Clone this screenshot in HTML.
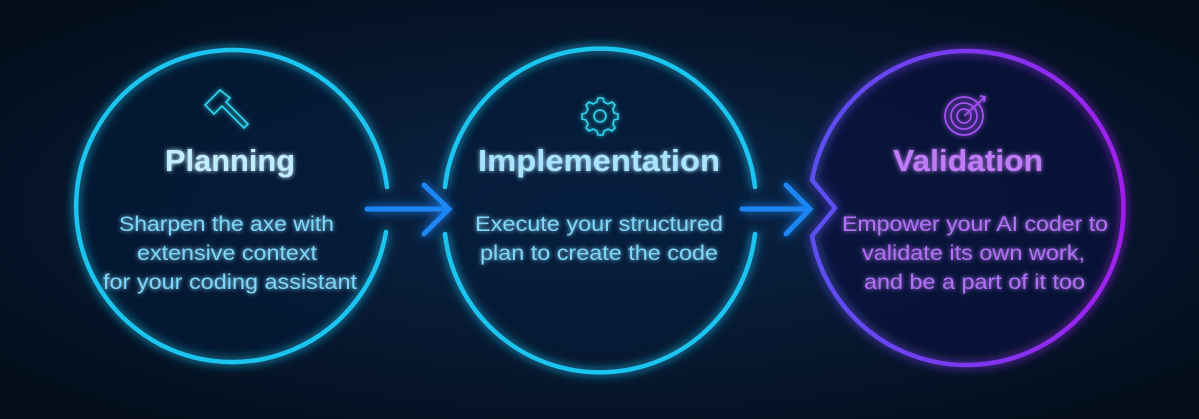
<!DOCTYPE html>
<html><head><meta charset="utf-8"><style>
html,body{margin:0;padding:0;background:#04101f;}
svg{display:block}
</style></head><body>
<svg width="1199" height="419" viewBox="0 0 1199 419" xmlns="http://www.w3.org/2000/svg" font-family="Liberation Sans, sans-serif">
<defs>
<radialGradient id="bg" cx="50%" cy="50%" r="70%">
<stop offset="0" stop-color="#0b2448"/><stop offset="1" stop-color="#030c18"/>
</radialGradient>
<linearGradient id="pg" x1="0" y1="0" x2="1" y2="0">
<stop offset="0" stop-color="#5a50f0"/><stop offset="1" stop-color="#a21ff0"/>
</linearGradient>
<filter id="glow" x="-30%" y="-30%" width="160%" height="160%">
<feGaussianBlur stdDeviation="5" result="b"/>
<feMerge><feMergeNode in="b"/><feMergeNode in="SourceGraphic"/></feMerge>
</filter>
<filter id="tglow" x="-20%" y="-50%" width="140%" height="200%">
<feGaussianBlur stdDeviation="2.5" result="b"/>
<feMerge><feMergeNode in="b"/><feMergeNode in="SourceGraphic"/></feMerge>
</filter>
</defs>
<rect width="1199" height="419" fill="url(#bg)"/>
<circle cx="231" cy="205" r="150" fill="#041a38" opacity="0.6"/>
<circle cx="600" cy="205" r="150" fill="#041a38" opacity="0.6"/>
<circle cx="967" cy="205" r="150" fill="#0a1040" opacity="0.6"/>
<g filter="url(#glow)" fill="none" stroke-width="4.5" stroke-linecap="round">
<path d="M387 187 A156 156 0 1 0 386 232" stroke="#1cc4f0"/>
<path d="M755 187 A156 156 0 0 0 445 187" stroke="#1cc4f0"/>
<path d="M445 234 A156 156 0 0 0 755 234" stroke="#1cc4f0"/>
<path d="M812 180 A157 157 0 1 1 812 236 L835 208 Z" stroke="url(#pg)" stroke-linejoin="round"/>
<g stroke="#1a86f5" stroke-width="5">
<path d="M367 209 H449 M424 185 L449 209 L424 234"/>
<path d="M742 209 H810 M786 185 L810 209 L786 234"/>
</g>
</g>
<!-- icons -->
<g fill="none" stroke="#2fd8f0" stroke-width="1.6" filter="url(#tglow)">
<path d="M219 91 L205 105 L214 114 L222 106 L244 128 L248 124 L226 102 L230 98 L220 90 Z"/>
<circle cx="600" cy="116" r="6"/>
<path d="M600 98 l3 0 1 4 4 2 4-2 3 3-2 4 1 4 4 1 0 5-4 1-1 4 2 4-3 3-4-2-4 2-1 4h-5l-1-4-4-2-4 2-3-3 2-4-2-4-4-1v-5l4-1 2-4-2-4 3-3 4 2 4-2 1-4z"/>
</g>
<g fill="none" stroke="#a050f0" stroke-width="1.8" filter="url(#tglow)">
<circle cx="964" cy="116" r="19"/><circle cx="964" cy="116" r="13"/><circle cx="964" cy="116" r="7"/>
<path d="M964 116 L985 97 M980 96 L985 97 L984 102"/>
</g>
<g filter="url(#tglow)" lengthAdjust="spacingAndGlyphs">
<text x="165" y="171" font-size="31" font-weight="bold" fill="#c2ecff" textLength="130" lengthAdjust="spacingAndGlyphs">Planning</text>
<text x="478" y="171" font-size="31" font-weight="bold" fill="#a8e4ff" textLength="242" lengthAdjust="spacingAndGlyphs">Implementation</text>
<text x="893" y="171" font-size="31" font-weight="bold" fill="#c07cf8" textLength="150" lengthAdjust="spacingAndGlyphs">Validation</text>
<g font-size="21.5" fill="#7fd6f8">
<text x="119" y="231" textLength="215" lengthAdjust="spacingAndGlyphs">Sharpen the axe with</text>
<text x="137" y="260" textLength="180" lengthAdjust="spacingAndGlyphs">extensive context</text>
<text x="103" y="289" textLength="254" lengthAdjust="spacingAndGlyphs">for your coding assistant</text>
<text x="475" y="231" textLength="248" lengthAdjust="spacingAndGlyphs">Execute your structured</text>
<text x="480" y="260" textLength="238" lengthAdjust="spacingAndGlyphs">plan to create the code</text>
</g>
<g font-size="21.5" fill="#b272f5">
<text x="842" y="231" textLength="266" lengthAdjust="spacingAndGlyphs">Empower your AI coder to</text>
<text x="862" y="260" textLength="223" lengthAdjust="spacingAndGlyphs">validate its own work,</text>
<text x="864" y="289" textLength="221" lengthAdjust="spacingAndGlyphs">and be a part of it too</text>
</g>
</g>
</svg>
</body></html>
